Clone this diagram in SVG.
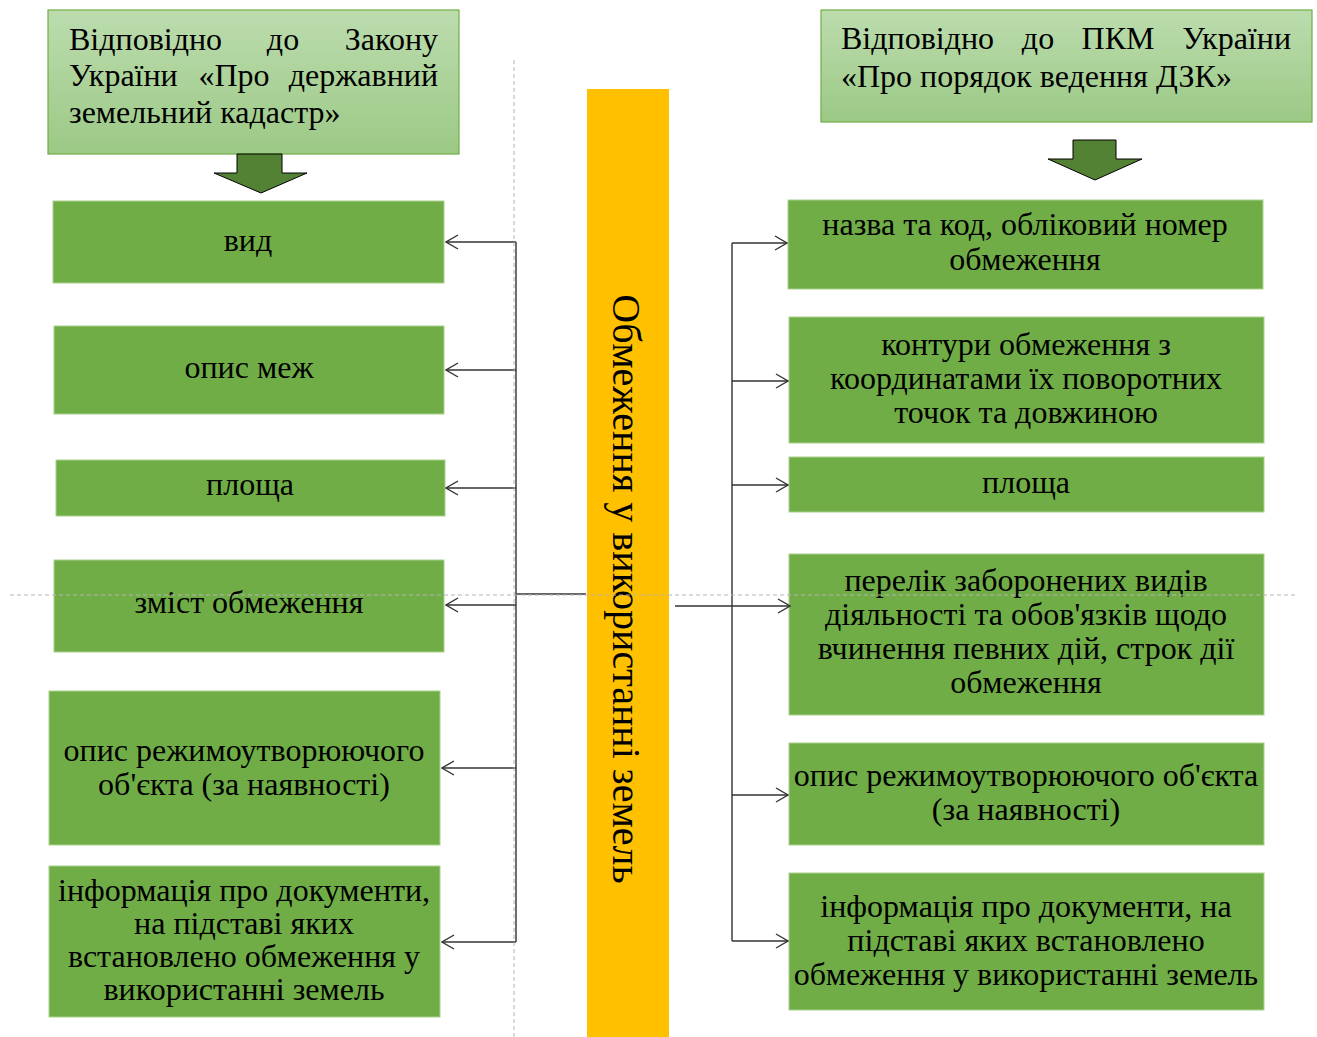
<svg xmlns="http://www.w3.org/2000/svg" width="1317" height="1037" viewBox="0 0 1317 1037">
<style>
  .box { fill: #70ad47; stroke: #a9d18e; stroke-width: 1; }
  .hdr { fill: url(#hg); stroke: #70ad47; stroke-width: 1.2; }
  .t { font-family: "Liberation Serif", "Times New Roman", serif; font-size: 32px; fill: #000; }
  .c { text-anchor: middle; }
  .e { text-anchor: end; }
  .con { fill: none; stroke: #333; stroke-width: 1.4; }
  .guide { fill: none; stroke: #b4b4b4; stroke-width: 1; stroke-dasharray: 4 3; }
  .barrow { fill: #548235; stroke: #000; stroke-width: 1; }
</style>
<defs>
  <linearGradient id="hg" x1="0" y1="0" x2="0" y2="1">
    <stop offset="0" stop-color="#bcdcae"/>
    <stop offset="1" stop-color="#9cc986"/>
  </linearGradient>
  <marker id="ah" viewBox="0 0 14 16" refX="13" refY="8" markerWidth="14" markerHeight="16" markerUnits="userSpaceOnUse" orient="auto">
    <path d="M1,1 L13,8 L1,15" fill="none" stroke="#333" stroke-width="1.4"/>
  </marker>
</defs>
<rect width="1317" height="1037" fill="#fff"/>

<!-- central bar -->
<g id="center">
  <rect x="587" y="89" width="82" height="948" fill="#ffc000"/>
  <text class="t c" transform="translate(613,589) rotate(90)" style="font-size:40px">Обмеження у використанні земель</text>
</g>

<!-- left header -->
<g id="hdr-left">
  <rect class="hdr" x="48" y="10" width="411" height="144"/>
  <text class="t" x="69" y="50">Відповідно</text>
  <text class="t c" x="283" y="50">до</text>
  <text class="t e" x="438" y="50">Закону</text>
  <text class="t" x="69" y="86">України</text>
  <text class="t c" x="234" y="86">«Про</text>
  <text class="t e" x="438" y="86">державний</text>
  <text class="t" x="69" y="123">земельний кадастр»</text>
</g>
<g id="arrow-left">
  <path class="barrow" d="M237,154 H282 V173 H307 L261,193 L214,173 H237 Z"/>
</g>

<!-- right header -->
<g id="hdr-right">
  <rect class="hdr" x="821" y="10" width="491" height="112"/>
  <text class="t" x="841" y="49">Відповідно</text>
  <text class="t c" x="1038" y="49">до</text>
  <text class="t c" x="1118" y="49">ПКМ</text>
  <text class="t e" x="1291" y="49">України</text>
  <text class="t" x="841" y="87">«Про порядок ведення ДЗК»</text>
</g>
<g id="arrow-right">
  <path class="barrow" d="M1073,140 H1116 V159 H1142 L1095,180 L1048,159 H1073 Z"/>
</g>

<!-- left boxes -->
<g id="l1"><rect class="box" x="53" y="201" width="391" height="82"/>
  <text class="t c" x="248" y="251">вид</text></g>
<g id="l2"><rect class="box" x="54" y="326" width="390" height="88"/>
  <text class="t c" x="249" y="378">опис меж</text></g>
<g id="l3"><rect class="box" x="56" y="460" width="389" height="56"/>
  <text class="t c" x="250" y="495">площа</text></g>
<g id="l4"><rect class="box" x="54" y="560" width="390" height="92"/>
  <text class="t c" x="249" y="613">зміст обмеження</text></g>
<g id="l5"><rect class="box" x="49" y="691" width="391" height="154"/>
  <text class="t c" x="244" y="761">опис режимоутворюючого</text>
  <text class="t c" x="244" y="795">об'єкта (за наявності)</text></g>
<g id="l6"><rect class="box" x="49" y="866" width="391" height="151"/>
  <text class="t c" x="244" y="901">інформація про документи,</text>
  <text class="t c" x="244" y="934">на підставі яких</text>
  <text class="t c" x="244" y="967">встановлено обмеження у</text>
  <text class="t c" x="244" y="1000">використанні земель</text></g>

<!-- right boxes -->
<g id="r1"><rect class="box" x="788" y="200" width="475" height="89"/>
  <text class="t c" x="1025" y="235">назва та код, обліковий номер</text>
  <text class="t c" x="1025" y="270">обмеження</text></g>
<g id="r2"><rect class="box" x="789" y="317" width="475" height="126"/>
  <text class="t c" x="1026" y="355">контури обмеження з</text>
  <text class="t c" x="1026" y="389">координатами їх поворотних</text>
  <text class="t c" x="1026" y="423">точок та довжиною</text></g>
<g id="r3"><rect class="box" x="789" y="457" width="475" height="55"/>
  <text class="t c" x="1026" y="493">площа</text></g>
<g id="r4"><rect class="box" x="789" y="554" width="475" height="161"/>
  <text class="t c" x="1026" y="591">перелік заборонених видів</text>
  <text class="t c" x="1026" y="625">діяльності та обов'язків щодо</text>
  <text class="t c" x="1026" y="659">вчинення певних дій, строк дії</text>
  <text class="t c" x="1026" y="693">обмеження</text></g>
<g id="r5"><rect class="box" x="789" y="743" width="475" height="102"/>
  <text class="t c" x="1026" y="786">опис режимоутворюючого об'єкта</text>
  <text class="t c" x="1026" y="820">(за наявності)</text></g>
<g id="r6"><rect class="box" x="789" y="873" width="475" height="137"/>
  <text class="t c" x="1026" y="917">інформація про документи, на</text>
  <text class="t c" x="1026" y="951">підставі яких встановлено</text>
  <text class="t c" x="1026" y="985">обмеження у використанні земель</text></g>

<!-- connectors -->
<g id="connectors">
  <path class="con" d="M586,594 H516"/>
  <path class="con" d="M516,242 V942"/>
  <path class="con" d="M516,242 H446" marker-end="url(#ah)"/>
  <path class="con" d="M516,370 H446" marker-end="url(#ah)"/>
  <path class="con" d="M516,488 H446" marker-end="url(#ah)"/>
  <path class="con" d="M516,605 H446" marker-end="url(#ah)"/>
  <path class="con" d="M516,768 H442" marker-end="url(#ah)"/>
  <path class="con" d="M516,942 H442" marker-end="url(#ah)"/>

  <path class="con" d="M732,243 V941"/>
  <path class="con" d="M675,606 H790" marker-end="url(#ah)"/>
  <path class="con" d="M732,243 H787" marker-end="url(#ah)"/>
  <path class="con" d="M732,381 H788" marker-end="url(#ah)"/>
  <path class="con" d="M732,485 H788" marker-end="url(#ah)"/>
  <path class="con" d="M732,795 H788" marker-end="url(#ah)"/>
  <path class="con" d="M732,941 H788" marker-end="url(#ah)"/>
</g>

<!-- guides (drawn on top, as in the reference) -->
<g id="guides">
  <line class="guide" x1="514" y1="60" x2="514" y2="1037"/>
  <line class="guide" x1="10" y1="595" x2="1297" y2="595"/>
</g>
</svg>
